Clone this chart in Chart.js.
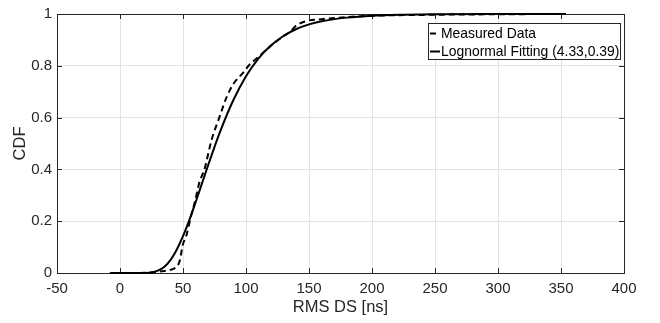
<!DOCTYPE html>
<html>
<head>
<meta charset="utf-8">
<script src="https://cdn.jsdelivr.net/npm/chart.js@4"></script>
<style>
html,body{margin:0;padding:0;background:#fff;}
#wrap{width:660px;height:323px;position:relative;}
</style>
</head>
<body>
<div id="wrap"><canvas id="c" width="660" height="323"></canvas></div>
<script>
// ---- data ----
const xTicks = [-50, 0, 50, 100, 150, 200, 250, 300, 350, 400];
const yTicks = [0, 0.2, 0.4, 0.6, 0.8, 1];

const measuredX = [-8, 10, 20, 30, 35, 40, 44, 46, 47.6, 49.7, 53, 56, 59.5, 63, 67, 72.8, 78.8, 84.7, 90, 98, 102, 110, 120, 130, 136, 139, 148, 160, 180, 200, 250, 300, 354];
const measuredY = [0, 0, 0.001, 0.005, 0.008, 0.012, 0.02, 0.03, 0.05, 0.106, 0.15, 0.213, 0.276, 0.35, 0.40, 0.516, 0.6, 0.68, 0.73, 0.775, 0.80, 0.835, 0.878, 0.915, 0.935, 0.952, 0.973, 0.98, 0.988, 0.993, 0.997, 0.999, 1.0];

const fitX = [-8, 0, 10, 20, 25, 30, 35, 40, 45, 50, 55, 60, 65, 70, 75, 80, 90, 100, 110, 120, 130, 140, 150, 160, 180, 200, 225, 250, 300, 354];
const fitY = [0, 0, 0, 0.0003, 0.002, 0.009, 0.023, 0.05, 0.09, 0.142, 0.204, 0.273, 0.345, 0.417, 0.487, 0.553, 0.668, 0.76, 0.829, 0.879, 0.916, 0.942, 0.96, 0.972, 0.986, 0.9935, 0.9973, 0.9989, 0.9998, 1.0];

const seriesLabels = ['Measured Data', 'Lognormal Fitting (4.33,0.39)'];
const xTitle = 'RMS DS [ns]';
const yTitle = 'CDF';

const TXT = '#262626';
const AX = '#262626';
const GRID = '#e3e3e3';
const FONT = '"Liberation Sans", Arial, Helvetica, sans-serif';

const toPts = (xs, ys) => xs.map((x, i) => ({x: x, y: ys[i]}));

const boxPlugin = {
  id: 'matlabBox',
  beforeDatasetsDraw(chart) {
    const {ctx, chartArea: a, scales} = chart;
    const xs = scales.x, ys = scales.y;
    ctx.save();
    ctx.strokeStyle = AX;
    ctx.lineWidth = 1;
    ctx.setLineDash([]);
    // box
    ctx.strokeRect(Math.round(a.left) + 0.5, Math.round(a.top) + 0.5, Math.round(a.right - a.left), Math.round(a.bottom - a.top));
    // inward ticks
    const tl = 5;
    ctx.beginPath();
    xTicks.forEach(v => {
      const px = Math.round(xs.getPixelForValue(v)) + 0.5;
      ctx.moveTo(px, a.bottom); ctx.lineTo(px, a.bottom - tl);
      ctx.moveTo(px, a.top); ctx.lineTo(px, a.top + tl);
    });
    yTicks.forEach(v => {
      const py = Math.round(ys.getPixelForValue(v)) + 0.5;
      ctx.moveTo(a.left, py); ctx.lineTo(a.left + tl, py);
      ctx.moveTo(a.right, py); ctx.lineTo(a.right - tl, py);
    });
    ctx.stroke();
    ctx.restore();
  },
  afterDraw(chart) {
    const {ctx} = chart;
    ctx.save();
    // legend
    const lx = 428, ly = 23, lw = 192, lh = 36;
    ctx.fillStyle = '#fff';
    ctx.fillRect(lx, ly, lw, lh);
    ctx.strokeStyle = AX;
    ctx.lineWidth = 1;
    ctx.strokeRect(lx + 0.5, ly + 0.5, lw, lh);
    const rows = [33.5, 51.5];
    chart.data.datasets.forEach((ds, i) => {
      ctx.strokeStyle = '#000';
      ctx.lineWidth = 2;
      ctx.setLineDash(ds.borderDash || []);
      ctx.beginPath();
      ctx.moveTo(430, rows[i]); ctx.lineTo(440, rows[i]);
      ctx.stroke();
      ctx.setLineDash([]);
      ctx.fillStyle = '#000';
      ctx.font = '13.9px ' + FONT;
      ctx.textBaseline = 'middle';
      ctx.textAlign = 'left';
      ctx.fillText(ds.label, 441, rows[i] + 0.5);
    });
    ctx.restore();
  }
};

new Chart(document.getElementById('c'), {
  type: 'scatter',
  data: {
    datasets: [
      {
        label: seriesLabels[0],
        data: toPts(measuredX, measuredY),
        showLine: true,
        borderColor: '#000',
        borderWidth: 2,
        borderDash: [6, 4],
        pointRadius: 0,
        cubicInterpolationMode: 'monotone',
        fill: false,
        clip: false
      },
      {
        label: seriesLabels[1],
        data: toPts(fitX, fitY),
        showLine: true,
        borderColor: '#000',
        borderWidth: 2,
        pointRadius: 0,
        cubicInterpolationMode: 'monotone',
        fill: false,
        clip: false
      }
    ]
  },
  options: {
    responsive: false,
    animation: false,
    devicePixelRatio: 1,
    layout: {padding: {left: 0, top: 9, right: 36, bottom: 0}},
    plugins: {legend: {display: false}, tooltip: {enabled: false}},
    scales: {
      x: {
        type: 'linear',
        min: -50, max: 400,
        afterBuildTicks: s => { s.ticks = xTicks.map(v => ({value: v})); },
        afterFit: s => { s.height = 50; },
        grid: {color: GRID, lineWidth: 1, drawTicks: false},
        border: {display: false},
        ticks: {color: TXT, font: {family: FONT, size: 15}, padding: 7, maxRotation: 0, autoSkip: false,
                callback: v => String(v)},
        title: {display: true, text: xTitle, color: TXT, font: {family: FONT, size: 16.5}, padding: {top: 0, bottom: 6}}
      },
      y: {
        type: 'linear',
        min: 0, max: 1,
        afterBuildTicks: s => { s.ticks = yTicks.map(v => ({value: v})); },
        afterFit: s => { s.width = 57; },
        grid: {color: GRID, lineWidth: 1, drawTicks: false},
        border: {display: false},
        ticks: {color: TXT, font: {family: FONT, size: 15}, padding: 5, autoSkip: false,
                callback: v => String(Math.round(v * 10) / 10)},
        title: {display: true, text: yTitle, color: TXT, font: {family: FONT, size: 16.5}, padding: {top: 11, bottom: 0}}
      }
    }
  },
  plugins: [boxPlugin]
});
</script>
</body>
</html>
